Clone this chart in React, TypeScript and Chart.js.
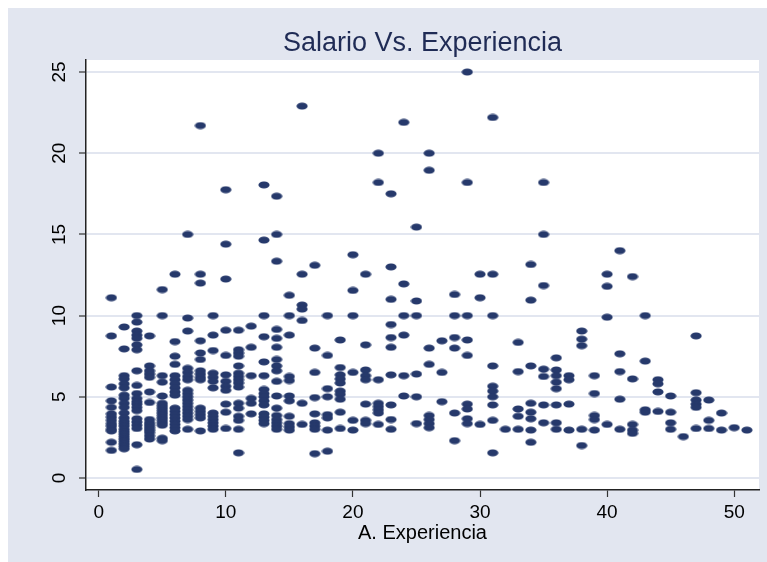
import React, { useEffect, useRef } from 'react';
import { Chart, registerables } from 'chart.js';

Chart.register(...registerables);

// ---- data ----
const tituloGrafico = 'Salario Vs. Experiencia';
const tituloEjeX = 'A. Experiencia';

const aniosExperiencia = [
  1, 2, 3, 4, 5, 6, 7, 8, 9, 10, 11, 12, 13, 14, 15, 16, 17, 18, 19, 20, 21, 22, 23, 24, 25, 26,
  27, 28, 29, 30, 31, 32, 33, 34, 35, 36, 37, 38, 39, 40, 41, 42, 43, 44, 45, 46, 47, 48, 49, 50, 51,
];

const salarios: number[][] = [
  [11.1, 8.75, 5.6, 4.75, 4.35, 3.95, 3.75, 3.55, 3.35, 3.2, 3.0, 2.9, 2.2, 1.7],
  [9.3, 7.95, 6.3, 6.1, 5.8, 5.55, 5.1, 4.9, 4.6, 4.35, 4.0, 3.7, 3.5, 3.35, 3.2, 3.0, 2.85, 2.7, 2.55, 2.4, 2.25, 2.1, 1.95, 1.8],
  [10.0, 9.6, 9.05, 8.8, 8.6, 8.2, 7.9, 6.6, 5.7, 5.2, 4.9, 4.7, 4.55, 4.35, 4.15, 3.65, 3.45, 3.25, 3.05, 2.05, 0.53],
  [8.75, 6.9, 6.6, 6.4, 6.2, 5.3, 4.65, 3.6, 3.4, 3.25, 3.1, 2.95, 2.8, 2.6, 2.4],
  [11.6, 10.0, 6.3, 5.9, 5.05, 4.6, 4.45, 4.3, 4.15, 4.0, 3.85, 3.7, 3.55, 3.4, 3.25, 2.45, 2.3],
  [12.55, 8.4, 7.5, 7.0, 6.3, 6.05, 5.8, 5.55, 5.3, 5.1, 4.3, 4.1, 3.9, 3.7, 3.5, 3.3, 3.1, 2.9],
  [15.0, 9.85, 9.05, 6.75, 6.5, 6.25, 6.05, 5.4, 5.2, 5.0, 4.8, 4.6, 4.4, 4.2, 4.0, 3.8, 3.6, 3.0],
  [21.7, 12.55, 12.0, 8.45, 7.7, 7.3, 6.6, 6.4, 6.2, 6.05, 4.3, 4.1, 3.9, 3.7, 2.9],
  [10.0, 8.8, 7.85, 6.45, 6.2, 5.95, 5.55, 4.0, 3.8, 3.6, 3.4, 3.2, 3.0],
  [17.75, 14.4, 12.25, 9.1, 7.55, 6.35, 5.95, 5.65, 5.4, 4.55, 4.05, 3.05],
  [9.1, 7.9, 7.7, 7.5, 6.9, 6.45, 6.25, 6.05, 5.85, 5.6, 4.6, 4.3, 3.8, 3.55, 3.0, 1.55],
  [9.35, 8.05, 6.3, 4.9, 4.6, 3.95],
  [18.05, 14.65, 10.0, 8.7, 7.15, 6.3, 5.45, 5.2, 5.0, 4.75, 4.5, 3.95, 3.75, 3.55, 3.35],
  [17.35, 15.0, 13.35, 9.15, 8.6, 8.05, 7.3, 6.9, 6.6, 5.95, 5.05, 4.3, 3.85, 3.6, 3.4, 3.2, 3.0],
  [11.25, 10.0, 8.8, 6.25, 6.0, 5.05, 4.75, 3.8, 3.35, 3.15, 2.95],
  [22.9, 12.55, 10.65, 10.4, 9.7, 4.6, 3.3],
  [13.1, 8.0, 6.5, 4.95, 3.95, 3.4, 3.2, 3.0, 1.5],
  [10.0, 7.55, 5.5, 5.0, 3.9, 3.7, 2.95, 1.65],
  [8.5, 6.8, 6.35, 6.1, 5.85, 5.35, 5.15, 4.85, 4.05, 3.05],
  [13.75, 11.55, 10.0, 6.5, 3.55, 2.95],
  [12.55, 8.2, 6.65, 6.3, 6.05, 4.55, 3.55, 3.35],
  [20.0, 18.2, 6.05, 4.6, 4.4, 4.2, 4.0, 3.3],
  [17.5, 13.0, 11.0, 9.45, 8.65, 8.05, 6.35, 4.5, 3.6, 3.0],
  [21.9, 11.95, 10.0, 8.8, 6.3, 5.05],
  [15.45, 10.9, 10.0, 6.4, 5.0, 3.35],
  [20.0, 18.95, 8.0, 7.0, 3.85, 3.6, 3.35, 3.1],
  [8.45, 6.5, 4.7],
  [11.3, 10.0, 8.65, 8.0, 4.0, 2.3],
  [25.0, 18.2, 10.0, 8.5, 7.55, 4.55, 4.25, 3.65, 3.35],
  [12.55, 11.1, 3.3],
  [22.2, 12.55, 10.0, 6.9, 5.65, 5.35, 5.0, 4.5, 3.55, 1.55],
  [3.0],
  [8.35, 6.55, 4.25, 3.8, 3.0],
  [13.15, 10.95, 6.9, 4.6, 4.05, 3.65, 2.95, 2.2],
  [18.2, 15.0, 11.85, 6.7, 6.25, 4.5, 3.4],
  [7.4, 6.65, 6.3, 5.9, 5.5, 4.5, 3.4, 3.0],
  [6.3, 6.05, 4.55, 2.95],
  [9.05, 8.55, 8.15, 3.0, 2.0],
  [6.3, 5.2, 3.85, 3.6, 2.95],
  [12.55, 11.8, 9.9, 3.3],
  [14.0, 7.65, 6.55, 4.85, 3.0],
  [12.4, 6.1, 3.3, 2.95, 2.75],
  [10.0, 7.2, 4.2, 4.05],
  [6.05, 5.8, 5.3, 4.1],
  [5.05, 4.05, 3.4, 3.0],
  [2.55],
  [8.75, 5.25, 4.8, 4.55, 4.35, 3.05],
  [4.8, 3.55, 3.05],
  [4.0, 2.95],
  [3.1],
  [2.95],
];

const xTicks = [0, 10, 20, 30, 40, 50];
const yTicks = [0, 5, 10, 15, 20, 25];

// ---- styles ----
const BG = '#e2e6f0';
const GRID = '#e2e6f0';
const MARKER = '#26396b';
const TITLE_COLOR = '#1f2b55';
const FONT = '"Liberation Sans", Arial, Helvetica, sans-serif';

function makeMarker(): HTMLCanvasElement {
  const c = document.createElement('canvas');
  c.width = 12;
  c.height = 8;
  const g = c.getContext('2d')!;
  g.fillStyle = MARKER;
  g.beginPath();
  g.ellipse(6, 4, 5.6, 3.5, 0, 0, Math.PI * 2);
  g.fill();
  return c;
}

const stataPlugin = {
  id: 'stataBg',
  beforeDraw(chart: any) {
    const { ctx, chartArea: a, width, height } = chart;
    ctx.save();
    ctx.fillStyle = '#ffffff';
    ctx.fillRect(0, 0, width, height);
    ctx.fillStyle = BG;
    ctx.fillRect(8, 8, width - 8, height - 8);
    ctx.fillStyle = '#ffffff';
    ctx.fillRect(a.left, a.top, a.right - a.left, a.bottom - a.top);
    ctx.font = `27px ${FONT}`;
    ctx.fillStyle = TITLE_COLOR;
    ctx.textAlign = 'center';
    ctx.textBaseline = 'alphabetic';
    ctx.fillText(tituloGrafico, (a.left + a.right) / 2, 51);
    ctx.restore();
  },
};

export default function App() {
  const ref = useRef<HTMLCanvasElement | null>(null);

  useEffect(() => {
    document.body.style.margin = '0';
    document.body.style.overflow = 'hidden';
    const canvas = ref.current;
    if (!canvas) return;

    const puntos: { x: number; y: number }[] = [];
    aniosExperiencia.forEach((x, i) => {
      salarios[i].forEach((y) => puntos.push({ x, y }));
    });

    const marker = makeMarker();

    const chart = new Chart(canvas, {
      type: 'scatter',
      data: {
        datasets: [
          {
            label: 'Salario',
            data: puntos,
            pointStyle: marker as any,
            pointRadius: 5,
            pointHoverRadius: 5,
            backgroundColor: MARKER,
            borderColor: MARKER,
          },
        ],
      },
      options: {
        responsive: false,
        animation: false,
        events: [],
        layout: { padding: { left: 0, right: 8, top: 60, bottom: 0 } },
        plugins: {
          legend: { display: false },
          tooltip: { enabled: false },
          title: { display: false },
        },
        scales: {
          x: {
            type: 'linear',
            min: -1,
            max: 51.95,
            afterFit: (s: any) => {
              s.height = 72;
            },
            afterBuildTicks: (s: any) => {
              s.ticks = xTicks.map((v) => ({ value: v }));
            },
            ticks: {
              includeBounds: false,
              color: '#000',
              font: { family: FONT, size: 19 },
              padding: 4,
              maxRotation: 0,
              minRotation: 0,
              autoSkip: false,
            },
            grid: {
              drawOnChartArea: false,
              drawTicks: true,
              tickLength: 7,
              tickColor: '#333',
              tickWidth: 1.2,
            },
            border: { display: true, color: '#222', width: 1.5 },
            title: {
              display: true,
              text: tituloEjeX,
              color: '#000',
              font: { family: FONT, size: 20 },
              padding: { top: 0, bottom: 17 },
            },
          },
          y: {
            type: 'linear',
            min: -0.74,
            max: 25.74,
            afterFit: (s: any) => {
              s.width = 86;
            },
            afterBuildTicks: (s: any) => {
              s.ticks = yTicks.map((v) => ({ value: v }));
            },
            ticks: {
              includeBounds: false,
              color: '#000',
              font: { family: FONT, size: 19 },
              padding: 9,
              minRotation: 90,
              maxRotation: 90,
              crossAlign: 'center',
              autoSkip: false,
            },
            grid: {
              drawOnChartArea: true,
              color: GRID,
              lineWidth: 2,
              drawTicks: true,
              tickLength: 7,
              tickColor: '#333',
              tickWidth: 1.2,
            },
            border: { display: true, color: '#222', width: 1.5 },
          },
        },
      },
      plugins: [stataPlugin],
    });

    return () => chart.destroy();
  }, []);

  return <canvas ref={ref} width={767} height={562} style={{ display: 'block' }} />;
}
